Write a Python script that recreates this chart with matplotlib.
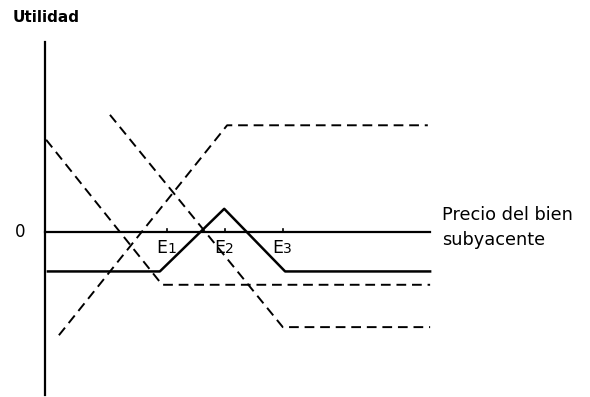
import matplotlib
matplotlib.use("Agg")
import matplotlib.pyplot as plt

plt.rcParams['font.family'] = ['DejaVu Sans']

# strike prices on the price axis
strikes = [2.1, 3.1, 4.1]
strike_names = ['1', '2', '3']

# butterfly spread (solid)
fly_x = [0.05, 1.98, 3.09, 4.14, 6.64]
fly_y = [-0.68, -0.68, 0.40, -0.68, -0.68]

# long put at E1 (dashed)
put1_x = [0.02, 2.02, 6.64]
put1_y = [1.59, -0.91, -0.91]

# short put at E2 (dashed)
put2_x = [0.24, 3.14, 6.60]
put2_y = [-1.78, 1.84, 1.84]

# long put at E3 (dashed)
put3_x = [1.12, 4.10, 6.64]
put3_y = [2.02, -1.64, -1.64]

fig = plt.figure(figsize=(5.9, 3.97), dpi=100)
ax = fig.add_axes([0, 0, 1, 1])
ax.set_xlim(-45 / 58, 545 / 58)
ax.set_ylim(-165 / 58, 232 / 58)
ax.axis('off')

# axes
ax.plot([0, 0], [3.28, -2.81], color='black', lw=1.6)
ax.plot([0, 6.64], [0, 0], color='black', lw=1.6)

dash = (0, (5, 3))
ax.plot(put1_x, put1_y, color='black', lw=1.4, linestyle=dash)
ax.plot(put2_x, put2_y, color='black', lw=1.4, linestyle=dash)
ax.plot(put3_x, put3_y, color='black', lw=1.4, linestyle=dash)
ax.plot(fly_x, fly_y, color='black', lw=1.8)

for e, n in zip(strikes, strike_names):
    ax.plot([e, e], [0, 0.06], color='black', lw=1.2)
    ax.text(e + 0.0, -0.37, 'E', fontsize=12.5, ha='right', va='baseline')
    ax.text(e + 0.01, -0.37, n, fontsize=10, ha='left', va='baseline')

ax.text(-0.52, 0, '0', fontsize=12, ha='left', va='center')
ax.text(-0.55, 3.7, 'Utilidad', fontsize=11, ha='left', va='center', fontweight='bold')
ax.text(6.84, 0.29, 'Precio del bien', fontsize=12.8, ha='left', va='center')
ax.text(6.84, -0.14, 'subyacente', fontsize=12.8, ha='left', va='center')

fig.savefig('out.png', dpi=100)
